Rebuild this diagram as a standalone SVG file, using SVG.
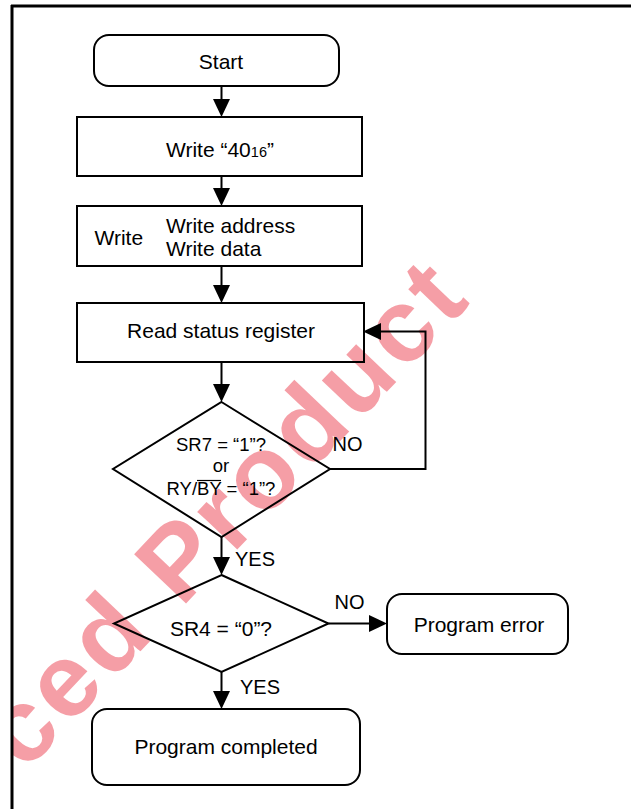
<svg xmlns="http://www.w3.org/2000/svg" width="631" height="809" viewBox="0 0 631 809">
  <style>
    .box{fill:none;stroke:#000;stroke-width:2}
    .ln{fill:none;stroke:#000;stroke-width:2}
    .t{font-family:"Liberation Sans",Arial,sans-serif;font-size:21px;fill:#000}
    .s{font-family:"Liberation Sans",Arial,sans-serif;font-size:18.5px;fill:#000}
    .lb{font-family:"Liberation Sans",Arial,sans-serif;font-size:20px;fill:#000}
    .wm{font-family:"Liberation Sans",Arial,sans-serif;font-weight:bold;font-size:104px;fill:#e8192c;fill-opacity:0.42}
  </style>
  <defs>
    <marker id="ah" markerUnits="userSpaceOnUse" markerWidth="18" markerHeight="17" refX="9" refY="8.5" orient="auto">
      <path d="M0,0 L18,8.5 L0,17 Z" fill="#000"/>
    </marker>
    <clipPath id="frameclip"><rect x="13" y="7" width="618" height="802"/></clipPath>
  </defs>
  <rect x="0" y="0" width="631" height="809" fill="#fff"/>
  <g id="watermark" clip-path="url(#frameclip)">
    <text class="wm" x="0" y="0" transform="translate(25,773) rotate(-46.5)" textLength="648" lengthAdjust="spacing">ced Product</text>
  </g>
  <g id="frame">
    <line x1="11" y1="6" x2="631" y2="6" stroke="#000" stroke-width="3"/>
    <line x1="12" y1="5" x2="12" y2="809" stroke="#000" stroke-width="3"/>
  </g>
  <g id="connectors">
    <line class="ln" x1="221.5" y1="86" x2="221.5" y2="108" marker-end="url(#ah)"/>
    <line class="ln" x1="221.5" y1="176" x2="221.5" y2="197" marker-end="url(#ah)"/>
    <line class="ln" x1="221.5" y1="266" x2="221.5" y2="294" marker-end="url(#ah)"/>
    <line class="ln" x1="221.5" y1="362" x2="221.5" y2="393" marker-end="url(#ah)"/>
    <polyline class="ln" points="330,469 425.5,469 425.5,331.5 372,331.5" marker-end="url(#ah)"/>
    <line class="ln" x1="221.5" y1="537" x2="221.5" y2="566" marker-end="url(#ah)"/>
    <line class="ln" x1="328.5" y1="623.5" x2="378" y2="623.5" marker-end="url(#ah)"/>
    <line class="ln" x1="221.5" y1="672" x2="221.5" y2="700" marker-end="url(#ah)"/>
    <text class="lb" x="332.5" y="451">NO</text>
    <text class="lb" x="235" y="566">YES</text>
    <text class="lb" x="334.5" y="609">NO</text>
    <text class="lb" x="240" y="693.5">YES</text>
  </g>
  <g id="start">
    <rect class="box" x="94" y="35" width="245" height="51" rx="15"/>
    <text class="t" x="221" y="68.5" text-anchor="middle">Start</text>
  </g>
  <g id="write40">
    <rect class="box" x="77" y="117" width="285" height="59"/>
    <text class="t" x="166" y="157"><tspan>Write “40</tspan><tspan font-size="14.5px">16</tspan><tspan>”</tspan></text>
  </g>
  <g id="writedata">
    <rect class="box" x="77" y="206" width="285" height="60"/>
    <text class="t" x="94.5" y="245">Write</text>
    <text class="t" x="166" y="232.5">Write address</text>
    <text class="t" x="166" y="255.5">Write data</text>
  </g>
  <g id="readstatus">
    <rect class="box" x="77" y="303" width="287" height="59"/>
    <text class="t" x="221" y="337.5" text-anchor="middle">Read status register</text>
  </g>
  <g id="decision1">
    <polygon class="box" points="221.5,402 330,469 221.5,537 113,469"/>
    <text class="s" x="221" y="451" text-anchor="middle">SR7 = “1”?</text>
    <text class="s" x="221" y="472" text-anchor="middle">or</text>
    <text class="s" x="221" y="494.5" text-anchor="middle">RY/BY = “1”?</text>
    <line x1="197" y1="480.5" x2="221" y2="480.5" stroke="#000" stroke-width="1.2"/>
  </g>
  <g id="decision2">
    <polygon class="box" points="221.5,575 328.5,623.5 221.5,672 114,623.5"/>
    <text class="t" x="221" y="636" text-anchor="middle">SR4 = “0”?</text>
  </g>
  <g id="programerror">
    <rect class="box" x="387" y="594" width="181" height="60" rx="15"/>
    <text class="t" x="479" y="631.5" text-anchor="middle">Program error</text>
  </g>
  <g id="programcompleted">
    <rect class="box" x="92" y="709" width="268" height="76" rx="15"/>
    <text class="t" x="226" y="753.5" text-anchor="middle">Program completed</text>
  </g>
</svg>
